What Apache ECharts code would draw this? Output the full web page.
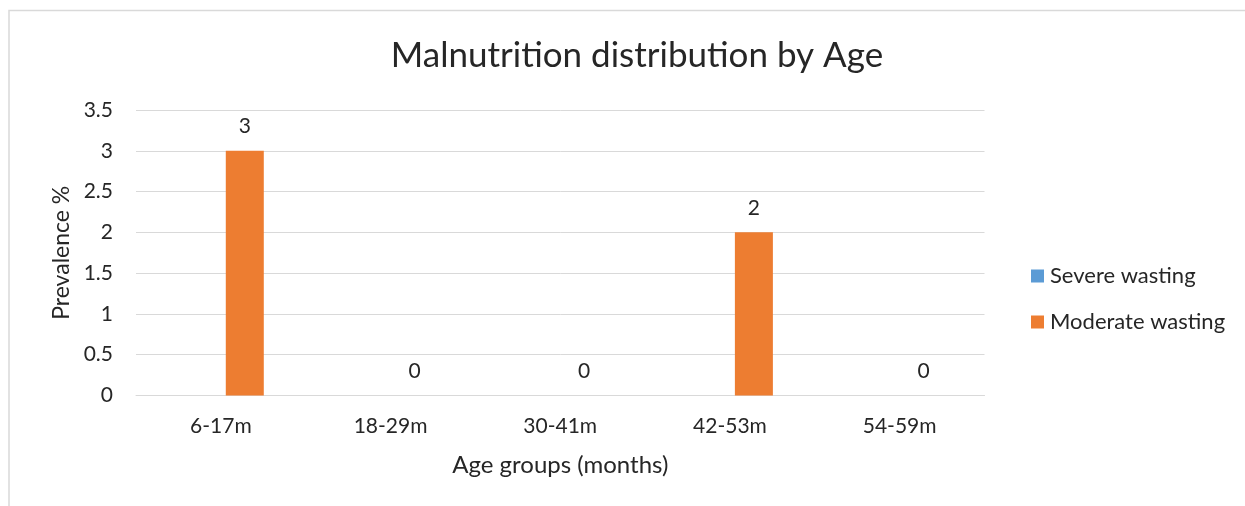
<!DOCTYPE html>
<html>
<head>
<meta charset="utf-8">
<script src="https://cdn.jsdelivr.net/npm/echarts@6/dist/echarts.min.js"></script>
<style>
  html, body { margin: 0; padding: 0; background: #fff; }
  #chart { width: 1245px; height: 506px; }
</style>
</head>
<body>
<div id="chart"></div>
<script>
// Age groups and wasting prevalence per group
const ageGroups = ['6-17m', '18-29m', '30-41m', '42-53m', '54-59m'];
const severeWasting = [0, 0, 0, 0, 0];
const moderateWasting = [3, 0, 0, 2, 0];
const yTicks = { min: 0, max: 3.5, step: 0.5 };

const FONT = 'Lato, "Open Sans", sans-serif';
const TEXT = '#262626';

const chart = echarts.init(document.getElementById('chart'), null, { renderer: 'canvas' });
chart.setOption({
  backgroundColor: '#ffffff',
  animation: false,
  textStyle: { fontFamily: FONT, color: TEXT },
  graphic: [{
    type: 'rect',
    shape: { x: 9, y: 10.5, width: 1400, height: 700 },
    style: { fill: 'none', stroke: '#d9d9d9', lineWidth: 1.5 },
    silent: true
  }],
  title: {
    text: 'Malnutrition distribution by Age',
    left: 632, top: 33, textAlign: 'center',
    textStyle: { fontFamily: FONT, fontSize: 35, fontWeight: 'normal', color: TEXT }
  },
  legend: {
    orient: 'vertical',
    left: 1026, top: 260,
    itemWidth: 13, itemHeight: 13, itemGap: 24,
    icon: 'rect',
    textStyle: { fontFamily: FONT, fontSize: 22, color: TEXT, padding: [0, 0, 0, 1] },
    data: ['Severe wasting', 'Moderate wasting']
  },
  grid: { left: 136, right: 260.5, top: 110, bottom: 110.5, containLabel: false },
  xAxis: {
    type: 'category',
    data: ageGroups,
    name: 'Age groups (months)',
    nameLocation: 'middle',
    nameGap: 58,
    nameTextStyle: { fontFamily: FONT, fontSize: 24, color: TEXT },
    axisLine: { lineStyle: { color: '#d9d9d9', width: 1 } },
    axisTick: { show: false },
    axisLabel: { fontFamily: FONT, fontSize: 21, color: TEXT, margin: 20 }
  },
  yAxis: {
    type: 'value',
    min: yTicks.min, max: yTicks.max, interval: yTicks.step,
    name: 'Prevalence %',
    nameLocation: 'middle',
    nameGap: 63,
    nameRotate: 90,
    nameTextStyle: { fontFamily: FONT, fontSize: 23, color: TEXT },
    axisLine: { show: false },
    axisTick: { show: false },
    splitLine: { lineStyle: { color: '#d9d9d9', width: 1 } },
    axisLabel: { fontFamily: FONT, fontSize: 21, color: TEXT, margin: 23 }
  },
  series: [
    {
      name: 'Severe wasting',
      type: 'bar',
      data: severeWasting,
      barWidth: 38,
      barGap: '26%',
      itemStyle: { color: '#5B9BD5' }
    },
    {
      name: 'Moderate wasting',
      type: 'bar',
      data: moderateWasting,
      barWidth: 38,
      barGap: '26%',
      itemStyle: { color: '#ED7D31' },
      label: {
        show: true,
        position: 'top',
        distance: 14,
        fontFamily: FONT, fontSize: 21, color: TEXT
      }
    }
  ]
});
</script>
</body>
</html>
